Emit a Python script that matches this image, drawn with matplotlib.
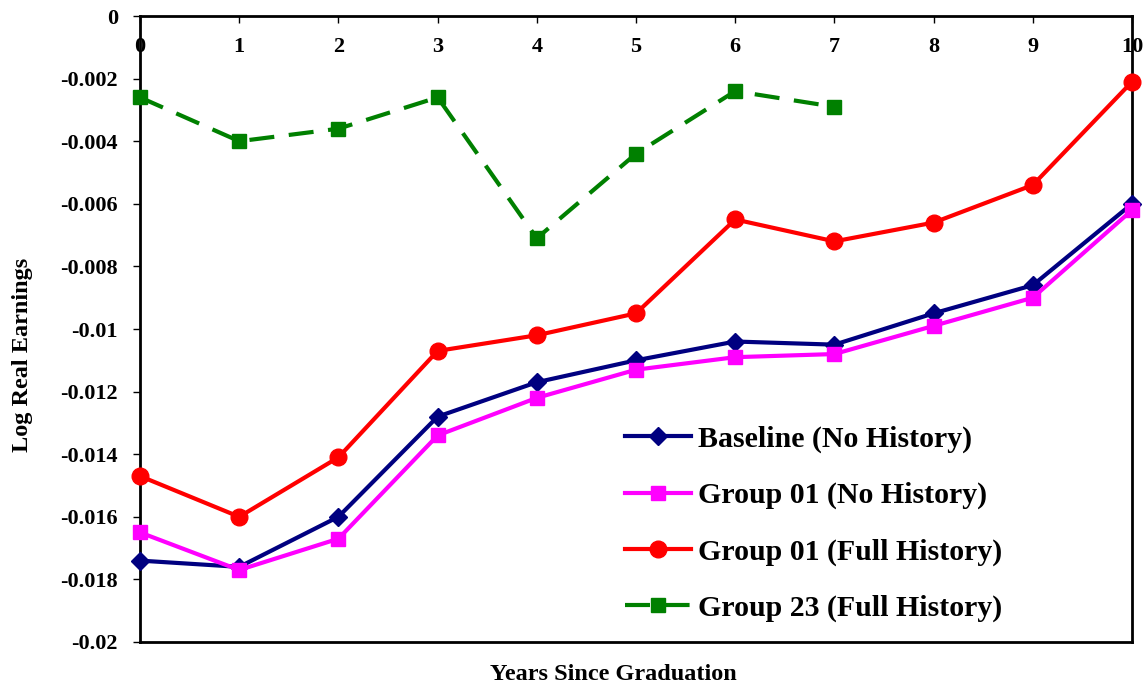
import matplotlib
matplotlib.use("Agg")
import matplotlib.pyplot as plt
from matplotlib.ticker import FixedLocator, FuncFormatter

years = list(range(11))
baseline = [-0.0174, -0.0176, -0.0160, -0.0128, -0.0117, -0.0110, -0.0104, -0.0105, -0.0095, -0.0086, -0.0060]
g01_no = [-0.0165, -0.0177, -0.0167, -0.0134, -0.0122, -0.0113, -0.0109, -0.0108, -0.0099, -0.0090, -0.0062]
g01_full = [-0.0147, -0.0160, -0.0141, -0.0107, -0.0102, -0.0095, -0.0065, -0.0072, -0.0066, -0.0054, -0.0021]
years23 = list(range(8))
g23_full = [-0.0026, -0.0040, -0.0036, -0.0026, -0.0071, -0.0044, -0.0024, -0.0029]
labels = ["Baseline (No History)", "Group 01 (No History)", "Group 01 (Full History)", "Group 23 (Full History)"]
yticks = [0, -0.002, -0.004, -0.006, -0.008, -0.01, -0.012, -0.014, -0.016, -0.018, -0.02]

plt.rcParams['font.family'] = ['Liberation Serif', 'DejaVu Serif']
plt.rcParams['font.weight'] = 'bold'

fig = plt.figure(figsize=(11.46, 6.85), dpi=100)
ax = fig.add_axes([0.1222, 0.0628, 0.8656, 0.9138])

lw = 3
ax.plot(years, baseline, color='#000080', lw=lw, marker='D', ms=9, label=labels[0], clip_on=False, zorder=3)
ax.plot(years, g01_no, color='#FF00FF', lw=lw, marker='s', ms=10, label=labels[1], clip_on=False, zorder=4)
ax.plot(years, g01_full, color='#FF0000', lw=lw, marker='o', ms=12, label=labels[2], clip_on=False, zorder=5)
ax.plot(years23, g23_full, color='#008000', lw=lw, marker='s', ms=10, ls=(0, (6, 3.5)), label=labels[3], clip_on=False, zorder=6)

ax.set_xlim(0, 10)
ax.set_ylim(-0.02, 0)
ax.xaxis.set_major_locator(FixedLocator(years))
ax.yaxis.set_major_locator(FixedLocator(yticks))
ax.yaxis.set_major_formatter(FuncFormatter(lambda v, p: '0' if abs(v) < 1e-12 else ('%g' % v)))

ax.xaxis.set_ticks_position('top')
ax.tick_params(axis='x', direction='in', length=5, width=1, labeltop=True, labelbottom=False,
               labelsize=16, pad=-15, colors='black')
for lbl in ax.get_xticklabels():
    lbl.set_va('top')
    lbl.set_fontweight('bold')
ax.tick_params(axis='y', direction='out', length=5, width=1, labelsize=16, pad=11)
for lbl in ax.get_yticklabels():
    lbl.set_fontweight('bold')

for s in ax.spines.values():
    s.set_linewidth(2)
    s.set_color('black')

ax.set_ylabel('Log Real Earnings', fontsize=17.5, fontweight='bold')
ax.yaxis.set_label_coords(-0.108, 0.458)
fig.text(0.535, 0.016, 'Years Since Graduation', ha='center', va='center', fontsize=17.5, fontweight='bold')

leg = ax.legend(loc='lower left', bbox_to_anchor=(0.477, 0.013), frameon=False, fontsize=21.5,
                handlelength=2.2, handletextpad=0.25, labelspacing=0.97, borderaxespad=0)
for t in leg.get_texts():
    t.set_fontweight('bold')

fig.savefig('out.png', dpi=100)
